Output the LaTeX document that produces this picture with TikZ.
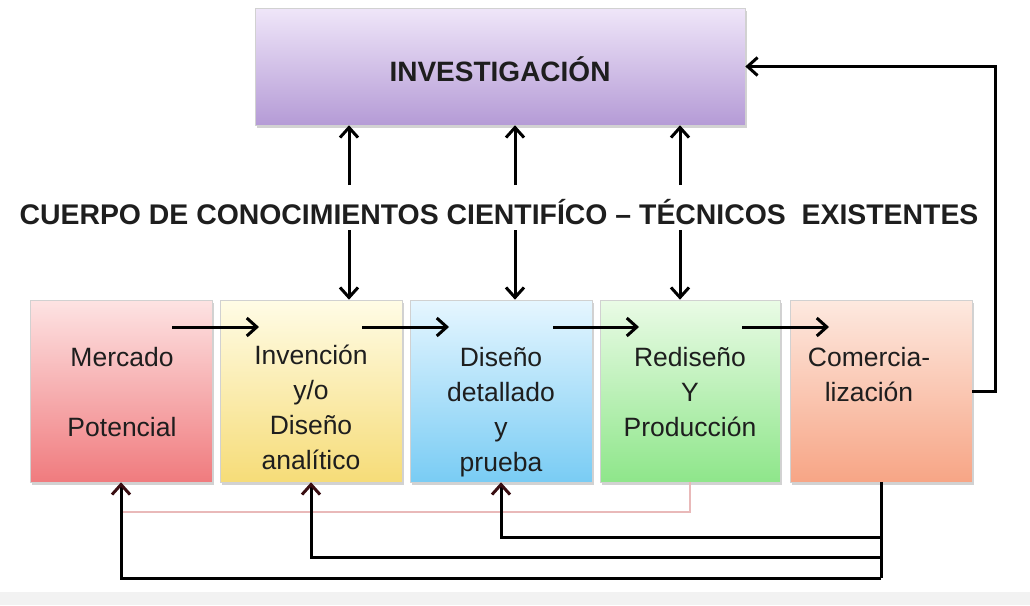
\documentclass[tikz,border=0pt]{standalone}
\usepackage{fontspec}
\setmainfont{Liberation Sans}
\usetikzlibrary{arrows.meta,shadows,calc}
\definecolor{txt}{HTML}{1E1E1E}
\definecolor{invT}{HTML}{EFE6F9}
\definecolor{invB}{HTML}{B59BD6}
\definecolor{c1T}{HTML}{FDE3E3}
\definecolor{c1B}{HTML}{F07B7E}
\definecolor{c2T}{HTML}{FFFCE6}
\definecolor{c2B}{HTML}{F6DC78}
\definecolor{c3T}{HTML}{E6F6FF}
\definecolor{c3B}{HTML}{79CCF4}
\definecolor{c4T}{HTML}{EAFBE6}
\definecolor{c4B}{HTML}{8EE68A}
\definecolor{c5T}{HTML}{FDE9E0}
\definecolor{c5B}{HTML}{F7A585}
\definecolor{pale}{HTML}{E9B9B9}
\definecolor{tipc}{HTML}{3A0E12}
\begin{document}
\begin{tikzpicture}[x=1pt,y=-1pt,
  box/.style={draw=black!18, line width=0.6pt, minimum width=182pt, minimum height=182pt, inner sep=0pt,
    drop shadow={shadow xshift=1.5pt, shadow yshift=-2.5pt, opacity=0.35}},
  lbl/.style={anchor=north, align=center, inner sep=0pt, font=\fontsize{26.5}{35}\selectfont, text=txt},
  arr/.style={-{Straight Barb[length=10pt,width=18pt,line width=3pt]}, line width=3pt, black},
  barr/.style={-{Straight Barb[length=10pt,width=18pt,line width=3pt,color=tipc]}, line width=3pt, black, line join=miter},
  fbl/.style={line width=3pt, black}
]
\useasboundingbox (0,0) rectangle (1030,605);
\fill[white] (0,0) rectangle (1030,605);
\fill[black!5] (0,592) rectangle (1030,605);

% top box
\node[box, top color=invT, bottom color=invB, minimum width=490pt, minimum height=117pt] (inv) at (500,66.5) {};
\node[font=\fontsize{28}{30}\selectfont\bfseries, text=txt] (invt) at (500,69) {INVESTIGACIÓN};

% middle text
\node[font=\fontsize{28.4}{32}\selectfont\bfseries, text=txt, inner sep=0pt] (cuerpo) at (499,212)
  {CUERPO DE CONOCIMIENTOS CIENTIFÍCO – TÉCNICOS\ \ EXISTENTES};

% bottom boxes
\node[box, top color=c1T, bottom color=c1B] (b1) at (121,391) {};
\node[box, top color=c2T, bottom color=c2B] (b2) at (311,391) {};
\node[box, top color=c3T, bottom color=c3B] (b3) at (501,391) {};
\node[box, top color=c4T, bottom color=c4B, minimum width=180pt] (b4) at (690,391) {};
\node[box, top color=c5T, bottom color=c5B] (b5) at (881,391) {};

\node[lbl] (t1) at (122,347) {Mercado\\[35pt]Potencial};
\node[lbl] (t2) at (311,345) {Invención\\y/o\\Diseño\\analítico};
\node[lbl] (t3) at (501,347) {Diseño\\detallado\\y\\prueba};
\node[lbl] (t4) at (690,347) {Rediseño\\Y\\Producción};
\node[lbl] (t5) at (869,347) {Comercia-\\lización};

% vertical arrows
\foreach \i/\x in {1/349,2/515,3/680}{
  \coordinate (u\i) at (\x,185);
  \coordinate (d\i) at (\x,230);
}
\draw[arr] (u1) -- (u1 |- inv.south);
\draw[arr] (u2) -- (u2 |- inv.south);
\draw[arr] (u3) -- (u3 |- inv.south);
\draw[arr] (d1) -- (d1 |- b2.north);
\draw[arr] (d2) -- (d2 |- b3.north);
\draw[arr] (d3) -- (d3 |- b4.north);

% horizontal arrows
\coordinate (h1) at (172,327); \coordinate (e1) at (259,327);
\coordinate (h2) at (362,327); \coordinate (e2) at (449,327);
\coordinate (h3) at (553,327); \coordinate (e3) at (639,327);
\coordinate (h4) at (742,327); \coordinate (e4) at (829,327);
\draw[arr] (h1) -- (e1);
\draw[arr] (h2) -- (e2);
\draw[arr] (h3) -- (e3);
\draw[arr] (h4) -- (e4);

% feedback to investigation
\draw[arr, line join=miter] (b5.east) -- (995,391) |- (inv.east);

% pale feedback line
\draw[pale, line width=1.6pt] (b4.south) -- (690,512) -- (121,512);

% bottom feedback
\draw[fbl] (b5.south) -- (881,578);
\draw[barr] (881,578) -| (b1.south);
\draw[barr] (881,557) -| (b2.south);
\draw[barr] (881,537) -| (b3.south);
\end{tikzpicture}
\end{document}
